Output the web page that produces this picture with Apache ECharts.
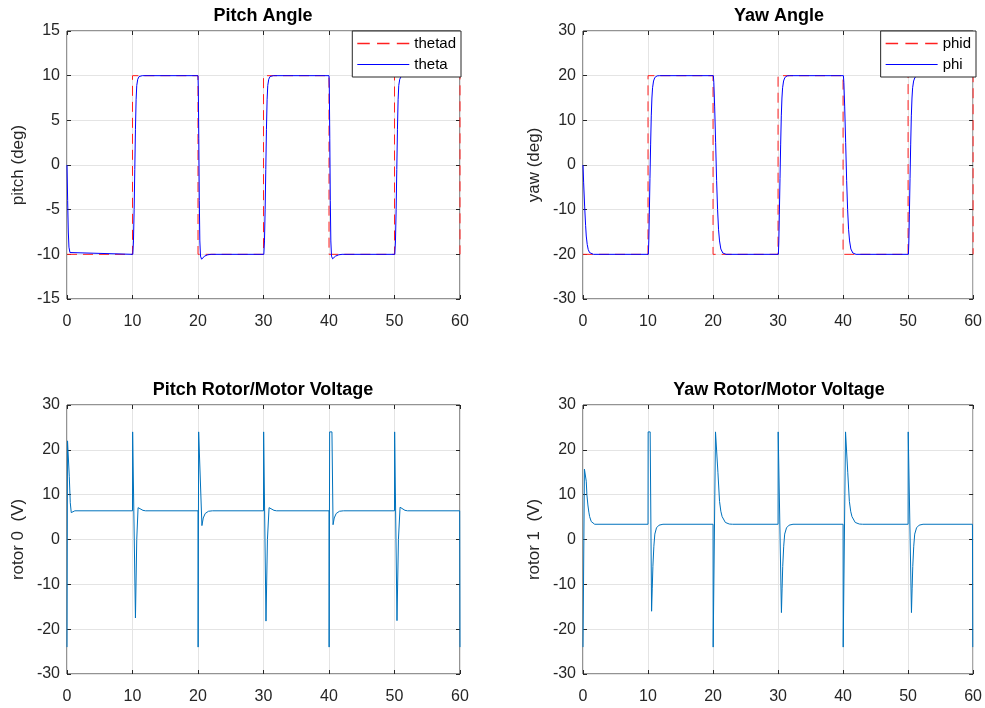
<!DOCTYPE html>
<html>
<head>
<meta charset="utf-8">
<title>Pitch / Yaw</title>
<script src="https://cdn.jsdelivr.net/npm/echarts@6/dist/echarts.min.js"></script>
<style>
    html, body { margin: 0; padding: 0; background: #fff; }
    #main { width: 985px; height: 708px; }
</style>
</head>
<body>
<div id="main"></div>
<script>
// 刻度
var timeTicks = [0, 10, 20, 30, 40, 50, 60];
var pitchTicks = [-15, -10, -5, 0, 5, 10, 15];
var yawTicks = [-30, -20, -10, 0, 10, 20, 30];
var voltTicks = [-30, -20, -10, 0, 10, 20, 30];

// 俯仰角 期望值 / 实际值 [t, deg]
var thetad = [[0, -10], [10, -10], [10, 10], [20, 10], [20, -10], [30, -10], [30, 10],
    [40, 10], [40, -10], [50, -10], [50, 10], [60, 10], [60, -10]];
var theta = [[0, 0], [0.1, -4], [0.2, -7.5], [0.3, -9.2], [0.45, -9.8], [0.7, -10],
    [10.05, -10], [10.15, -8.5], [10.25, -5], [10.35, -0.5], [10.45, 4], [10.55, 7.3], [10.65, 8.9], [10.8, 9.6], [11, 9.9], [11.5, 10],
    [20, 10], [20.05, 8.5], [20.12, 3], [20.2, -4], [20.28, -8.5], [20.38, -10.2], [20.55, -10.55], [20.75, -10.4], [21, -10.2], [21.5, -10.05], [22, -10],
    [30.05, -10], [30.15, -8.5], [30.25, -5], [30.35, -0.5], [30.45, 4], [30.55, 7.3], [30.65, 8.9], [30.8, 9.6], [31, 9.9], [31.5, 10],
    [40, 10], [40.05, 8.5], [40.12, 3], [40.2, -4], [40.28, -8.5], [40.38, -10.2], [40.55, -10.5], [40.75, -10.35], [41, -10.2], [41.5, -10.05], [42, -10],
    [50.05, -10], [50.15, -8.5], [50.25, -5], [50.35, -0.5], [50.45, 4], [50.55, 7.3], [50.65, 8.9], [50.8, 9.6], [51, 9.9], [51.5, 10],
    [60, 10]];

// 偏航角 期望值 / 实际值
var phid = [[0, -20], [10, -20], [10, 20], [20, 20], [20, -20], [30, -20], [30, 20],
    [40, 20], [40, -20], [50, -20], [50, 20], [60, 20], [60, -20]];
var phi = [[0, 0], [0.1, -4], [0.25, -9.2], [0.4, -13.5], [0.5, -15.9], [0.65, -17.8], [0.8, -18.9], [1, -19.6], [1.3, -19.95], [1.6, -20],
    [10.05, -20], [10.12, -17], [10.2, -11], [10.3, -3], [10.4, 4.5], [10.5, 11], [10.6, 15], [10.7, 17.3], [10.85, 18.8], [11.05, 19.6], [11.4, 19.95], [11.8, 20],
    [20.05, 20], [20.12, 18.5], [20.25, 13], [20.4, 5], [20.55, -3.5], [20.7, -10], [20.85, -14.5], [21, -17], [21.2, -18.8], [21.5, -19.7], [22, -20],
    [30.05, -20], [30.12, -17], [30.2, -11], [30.3, -3], [30.4, 4.5], [30.5, 11], [30.6, 15], [30.7, 17.3], [30.85, 18.8], [31.05, 19.6], [31.4, 19.95], [31.8, 20],
    [40.05, 20], [40.12, 18.5], [40.25, 13], [40.4, 5], [40.55, -3.5], [40.7, -10], [40.85, -14.5], [41, -17], [41.2, -18.8], [41.5, -19.7], [42, -20],
    [50.05, -20], [50.12, -17], [50.2, -11], [50.3, -3], [50.4, 4.5], [50.5, 11], [50.6, 15], [50.7, 17.3], [50.85, 18.8], [51.05, 19.6], [51.4, 19.95], [51.8, 20],
    [60, 20]];

// 俯仰电机电压 rotor 0 (V)
var rotor0 = [[0, -24], [0.05, -24], [0.08, 22], [0.2, 22], [0.35, 14], [0.5, 8.2], [0.65, 6], [0.8, 6.1], [1.2, 6.4],
    [10, 6.4], [10.02, 24], [10.2, 24], [10.45, -17.5], [10.65, 0], [10.85, 7.1], [11.1, 6.8], [11.6, 6.5], [12, 6.4],
    [20, 6.4], [20.02, -24], [20.07, -24], [20.1, 24], [20.4, 24], [20.6, 3.1], [20.8, 4.8], [21.1, 5.8], [21.6, 6.3], [22.2, 6.4],
    [30, 6.4], [30.02, 24], [30.15, 24], [30.38, -18.2], [30.6, 0], [30.85, 7.1], [31.1, 6.8], [31.6, 6.5], [32, 6.4],
    [40, 6.4], [40.02, -24], [40.07, -24], [40.1, 24], [40.45, 24], [40.62, 3.3], [40.8, 4.8], [41.1, 5.8], [41.6, 6.3], [42.2, 6.4],
    [50, 6.4], [50.02, 24], [50.15, 24], [50.38, -18.1], [50.6, 0], [50.85, 7.2], [51.1, 6.8], [51.6, 6.5], [52, 6.4],
    [59.95, 6.4], [60, -24]];

// 偏航电机电压 rotor 1 (V)
var rotor1 = [[0, -24], [0.2, -24], [0.22, 15.7], [0.4, 15.7], [0.5, 13], [0.6, 10], [0.75, 7.7], [0.9, 6.1], [1.02, 5.1], [1.27, 4], [1.5, 3.6], [1.8, 3.4],
    [10, 3.4], [10.02, 24], [10.33, 24], [10.55, -16], [10.65, -11], [10.75, -6], [10.9, -1.5], [11.05, 1.2], [11.3, 2.6], [11.7, 3.2], [12.3, 3.4],
    [20, 3.4], [20.02, -24], [20.25, -24], [20.38, 24], [20.55, 24], [20.75, 15], [21, 8.5], [21.2, 6.3], [21.4, 5.1], [21.9, 3.8], [22.5, 3.45], [23, 3.4],
    [30, 3.4], [30.02, 24], [30.3, 24], [30.52, -16.3], [30.62, -11], [30.72, -6], [30.87, -1.5], [31.02, 1.2], [31.3, 2.6], [31.7, 3.2], [32.3, 3.4],
    [40, 3.4], [40.02, -24], [40.28, -24], [40.38, 24], [40.52, 24], [40.72, 15], [40.97, 8.5], [41.17, 6.3], [41.37, 5.1], [41.87, 3.8], [42.5, 3.45], [43, 3.4],
    [50, 3.4], [50.02, 24], [50.3, 24], [50.52, -16.3], [50.62, -11], [50.72, -6], [50.87, -1.5], [51.02, 1.2], [51.3, 2.6], [51.7, 3.2], [52.3, 3.4],
    [59.9, 3.4], [59.95, -24], [60, -24]];

var fontName = 'Liberation Sans';
var axisColor = '#262626';
var refColor = '#ff2020';
var outColor = '#0000ff';
var dashType = [10, 6];

// 图例图标: 虚线 / 实线
var dashIcon = 'path://M0,0h12v1.6h-12z M19,0h12v1.6h-12z M38,0h12v1.6h-12z';
var solidIcon = 'path://M0,0h50v1.2h-50z';

// 四个子图的位置
var grids = [
    { left: 67, top: 31, width: 393, height: 268 },
    { left: 583, top: 31, width: 393, height: 268 },
    { left: 67, top: 405, width: 393, height: 269 },
    { left: 583, top: 405, width: 393, height: 269 }
];
var yTicks = [pitchTicks, yawTicks, voltTicks, voltTicks];
var yNames = ['pitch (deg)', 'yaw (deg)', 'rotor 0  (V)', 'rotor 1  (V)'];

function tickStep(ticks) {
    return ticks[1] - ticks[0];
}

var xAxes = [];
var yAxes = [];
grids.forEach(function (g, i) {
    // 下 / 左 主坐标轴
    xAxes.push({
        type: 'value', gridIndex: i, position: 'bottom',
        min: timeTicks[0], max: timeTicks[timeTicks.length - 1], interval: tickStep(timeTicks),
        axisLine: { show: false, onZero: false },
        axisTick: { show: true, inside: true, length: 4, lineStyle: { color: axisColor } },
        axisLabel: { margin: 15, fontSize: 16, fontFamily: fontName, color: axisColor },
        splitLine: { show: true, lineStyle: { color: '#e4e4e4', width: 1 } }
    });
    yAxes.push({
        type: 'value', gridIndex: i, position: 'left',
        min: yTicks[i][0], max: yTicks[i][yTicks[i].length - 1], interval: tickStep(yTicks[i]),
        name: yNames[i], nameLocation: 'middle', nameGap: 40,
        nameTextStyle: { fontSize: 17, fontFamily: fontName, color: axisColor },
        axisLine: { show: false, onZero: false },
        axisTick: { show: true, inside: true, length: 4, lineStyle: { color: axisColor } },
        axisLabel: { margin: 7, fontSize: 16, fontFamily: fontName, color: axisColor },
        splitLine: { show: true, lineStyle: { color: '#e4e4e4', width: 1 } }
    });
});
grids.forEach(function (g, i) {
    // 上 / 右 镜像刻度
    xAxes.push({
        type: 'value', gridIndex: i, position: 'top',
        min: timeTicks[0], max: timeTicks[timeTicks.length - 1], interval: tickStep(timeTicks),
        axisLine: { show: false, onZero: false },
        axisTick: { show: true, inside: true, length: 4, lineStyle: { color: axisColor } },
        axisLabel: { show: false },
        splitLine: { show: false }
    });
    yAxes.push({
        type: 'value', gridIndex: i, position: 'right',
        min: yTicks[i][0], max: yTicks[i][yTicks[i].length - 1], interval: tickStep(yTicks[i]),
        axisLine: { show: false, onZero: false },
        axisTick: { show: true, inside: true, length: 4, lineStyle: { color: axisColor } },
        axisLabel: { show: false },
        splitLine: { show: false }
    });
});

function makeTitle(text, x, y) {
    return {
        text: text, left: x, top: y, textAlign: 'center', padding: 0,
        textStyle: { fontSize: 18, fontWeight: 'bold', fontFamily: fontName, color: '#000' }
    };
}

function makeLegend(refName, outName, right) {
    return {
        data: [
            { name: refName, icon: dashIcon, itemStyle: { color: refColor, opacity: 1, borderWidth: 0 } },
            { name: outName, icon: solidIcon, itemStyle: { color: outColor, opacity: 1, borderWidth: 0 } }
        ],
        orient: 'vertical', right: right, top: 31,
        itemWidth: 52, itemHeight: 14, itemGap: 6,
        padding: [5, 5, 5, 5],
        backgroundColor: '#fff', borderColor: axisColor, borderWidth: 1,
        selectedMode: false,
        textStyle: { fontSize: 15, fontFamily: fontName, color: '#000' }
    };
}

function lineSeries(name, data, idx, color, type) {
    return {
        name: name, type: 'line', data: data,
        xAxisIndex: idx, yAxisIndex: idx,
        symbol: 'none', silent: true,
        lineStyle: { color: color, width: 1, type: type || 'solid' },
        itemStyle: { color: color }
    };
}

var chart = echarts.init(document.getElementById('main'));
var option = {
    animation: false,
    backgroundColor: '#fff',
    title: [
        makeTitle('Pitch Angle', 263, 7),
        makeTitle('Yaw Angle', 779, 7),
        makeTitle('Pitch Rotor/Motor Voltage', 263, 381),
        makeTitle('Yaw Rotor/Motor Voltage', 779, 381)
    ],
    legend: [
        makeLegend('thetad', 'theta', 524),
        makeLegend('phid', 'phi', 9)
    ],
    grid: grids.map(function (g) {
        return {
            left: g.left, top: g.top, width: g.width, height: g.height,
            show: true, borderColor: axisColor, borderWidth: 1, backgroundColor: '#fff'
        };
    }),
    xAxis: xAxes,
    yAxis: yAxes,
    series: [
        lineSeries('thetad', thetad, 0, refColor, dashType),
        lineSeries('theta', theta, 0, outColor),
        lineSeries('phid', phid, 1, refColor, dashType),
        lineSeries('phi', phi, 1, outColor),
        lineSeries('rotor0', rotor0, 2, '#0072bd'),
        lineSeries('rotor1', rotor1, 3, '#0072bd')
    ]
};
chart.setOption(option);
</script>
</body>
</html>
